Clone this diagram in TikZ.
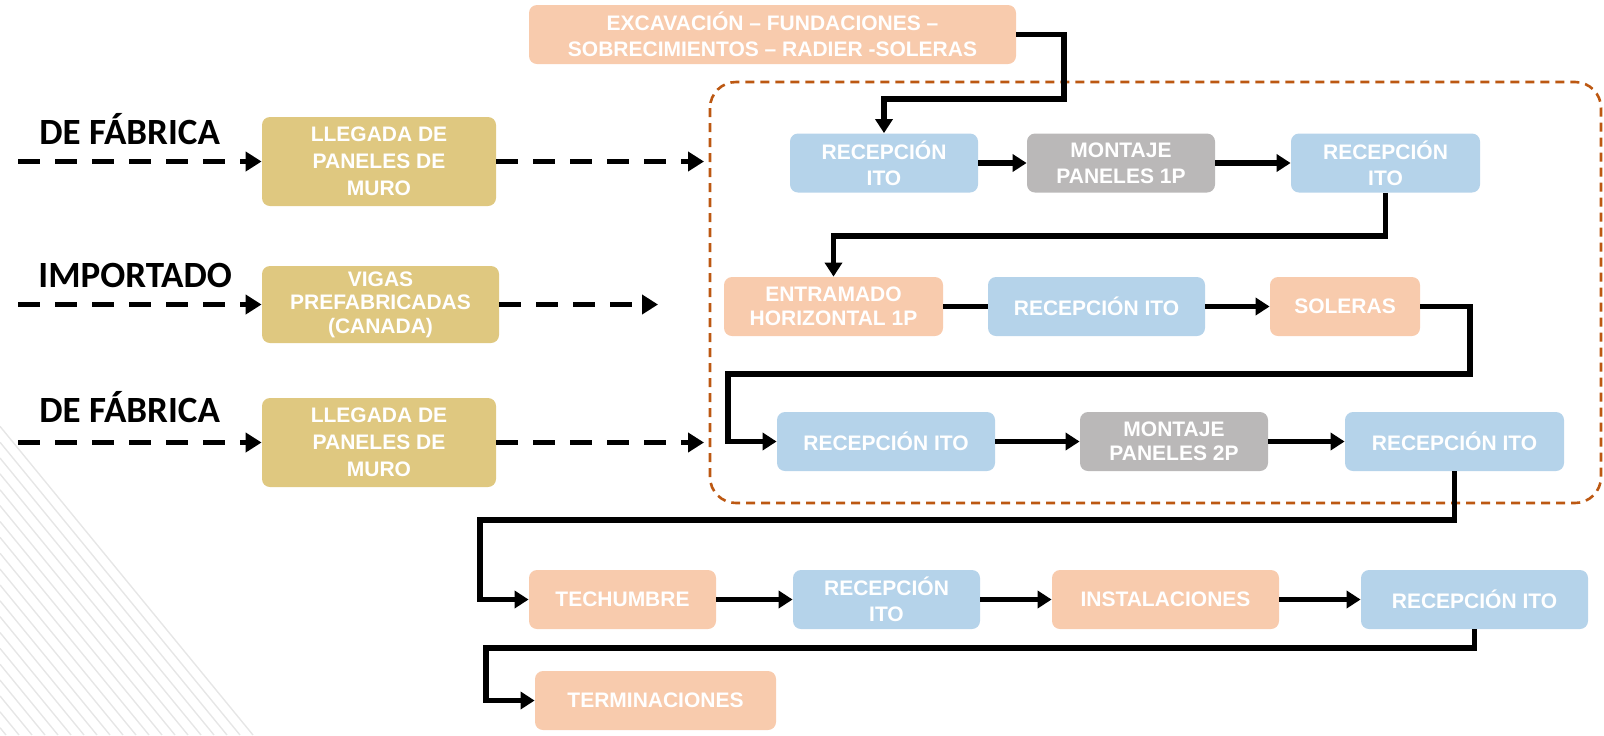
\documentclass[tikz,border=0pt]{standalone}
\usepackage{fontspec}
\setmainfont{Liberation Sans}
\newfontfamily\labelfont{Carlito}
\usetikzlibrary{arrows.meta}

\definecolor{peach}{HTML}{F8CBAD}
\definecolor{paleblue}{HTML}{B5D3EA}
\definecolor{ashgray}{HTML}{BAB8B8}
\definecolor{sand}{HTML}{DFC880}
\definecolor{rust}{HTML}{BC5812}
\definecolor{stripe}{HTML}{E6E6E6}

\begin{document}
\begin{tikzpicture}[x=0.5pt,y=-0.5pt,
  stage/.style={rounded corners=4pt, draw=none, text=white,
    font=\fontsize{10.5}{12.8}\selectfont\bfseries, align=center,
    inner sep=0pt, minimum height=29.5pt, minimum width=#1},
  supply/.style={stage=#1, fill=sand, minimum height=44.5pt,
    font=\fontsize{10.5}{13.5}\selectfont\bfseries},
  origin/.style={anchor=base west, inner sep=0pt,
    font=\labelfont\fontsize{18.5}{20}\selectfont\bfseries},
  flow/.style={line width=2.6pt, -{Triangle[length=7pt,width=8.5pt]}},
  link/.style={line width=2.6pt},
  feed/.style={line width=2.8pt, dash pattern=on 11pt off 7.5pt,
    -{Triangle[length=8pt,width=9.5pt]}},
  site/.style={draw=rust, line width=1.3pt, dash pattern=on 4.5pt off 3pt,
    rounded corners=13pt}
]
\useasboundingbox (0,0) rectangle (1604,735);

% hatched corner decoration
\foreach \b in {6,19,...,253}
  \draw[stripe, line width=0.7pt] (\b,735) -- (0,735-1.22*\b);

% work site frame
\draw[site] (710,82) rectangle (1601,503);

% origin labels
\node[origin] (lab1) at (39,144) {DE FÁBRICA};
\node[origin] (lab2) at (38,287) {IMPORTADO};
\node[origin] (lab3) at (39,422) {DE FÁBRICA};

% supplied elements
\node[supply=117pt] (lleg1) at (379,161.5) {LLEGADA DE\\PANELES DE\\MURO};
\node[supply=118.5pt, minimum height=38.5pt,
  font=\fontsize{10.5}{11.8}\selectfont\bfseries] (vigas) at (380.5,304.5)
  {VIGAS\\PREFABRICADAS\\(CANADA)};
\node[supply=117pt] (lleg2) at (379,442.5) {LLEGADA DE\\PANELES DE\\MURO};

% stages
\node[stage=243.5pt, fill=peach] (exc) at (772.5,34.5)
  {EXCAVACIÓN – FUNDACIONES –\\SOBRECIMIENTOS – RADIER -SOLERAS};

\node[stage=94pt, fill=paleblue] (r1a) at (884,163) {RECEPCIÓN\\ITO};
\node[stage=94pt, fill=ashgray] (mont1) at (1121,163) {MONTAJE\\PANELES 1P};
\node[stage=94.5pt, fill=paleblue] (r1c) at (1385.5,163) {RECEPCIÓN\\ITO};

\node[stage=109.5pt, fill=peach, font=\fontsize{10.5}{11.8}\selectfont\bfseries]
  (entr) at (833.5,306.5) {ENTRAMADO\\HORIZONTAL 1P};
\node[stage=108.5pt, fill=paleblue] (r2b) at (1096.5,306.5) {RECEPCIÓN ITO};
\node[stage=75pt, fill=peach] (sol) at (1345,306.5) {SOLERAS};

\node[stage=109pt, fill=paleblue] (r3a) at (886,441.5) {RECEPCIÓN ITO};
\node[stage=94pt, fill=ashgray, font=\fontsize{10.5}{11.8}\selectfont\bfseries]
  (mont2) at (1174,441.5) {MONTAJE\\PANELES 2P};
\node[stage=109.5pt, fill=paleblue] (r3c) at (1454.5,441.5) {RECEPCIÓN ITO};

\node[stage=93.5pt, fill=peach] (tech) at (622.5,599.5) {TECHUMBRE};
\node[stage=93.5pt, fill=paleblue] (r4b) at (886.5,599.5) {RECEPCIÓN\\ITO};
\node[stage=113.5pt, fill=peach] (inst) at (1165.5,599.5) {INSTALACIONES};
\node[stage=113.5pt, fill=paleblue] (r4d) at (1474.5,599.5) {RECEPCIÓN ITO};

\node[stage=120.5pt, fill=peach] (term) at (655.5,700.5) {TERMINACIONES};

% bend points of the process line
\coordinate (k1) at (1064,99);
\coordinate (k2) at (1385.5,236);
\coordinate (k3) at (1470,374);
\coordinate (k4) at (728,441.5);
\coordinate (k5) at (1454.5,520);
\coordinate (k6) at (480,599.5);
\coordinate (k7) at (1474.5,648);
\coordinate (k8) at (486,700.5);

% free ends of the supply lines
\coordinate (s1) at (18,161.5);
\coordinate (s2) at (18,304.5);
\coordinate (s3) at (18,442.5);
\coordinate (t1) at (704,161.5);
\coordinate (t2) at (658,304.5);
\coordinate (t3) at (704,442.5);

% supply lines
\draw[feed] (s1) -- (lleg1.west);
\draw[feed] (lleg1.east) -- (t1);
\draw[feed] (s2) -- (vigas.west);
\draw[feed] (vigas.east) -- (t2);
\draw[feed] (s3) -- (lleg2.west);
\draw[feed] (lleg2.east) -- (t3);

% process line
\draw[flow] (exc.east) -| (k1) -| (r1a.north);
\draw[flow] (r1a.east) -- (mont1.west);
\draw[flow] (mont1.east) -- (r1c.west);
\draw[flow] (r1c.south) -- (k2) -| (entr.north);
\draw[link] (entr.east) -- (r2b.west);
\draw[flow] (r2b.east) -- (sol.west);
\draw[flow] (sol.east) -| (k3) -| (k4) -- (r3a.west);
\draw[flow] (r3a.east) -- (mont2.west);
\draw[flow] (mont2.east) -- (r3c.west);
\draw[flow] (r3c.south) -- (k5) -| (k6) -- (tech.west);
\draw[flow] (tech.east) -- (r4b.west);
\draw[flow] (r4b.east) -- (inst.west);
\draw[flow] (inst.east) -- (r4d.west);
\draw[flow] (r4d.south) -- (k7) -| (k8) -- (term.west);
\end{tikzpicture}
\end{document}
